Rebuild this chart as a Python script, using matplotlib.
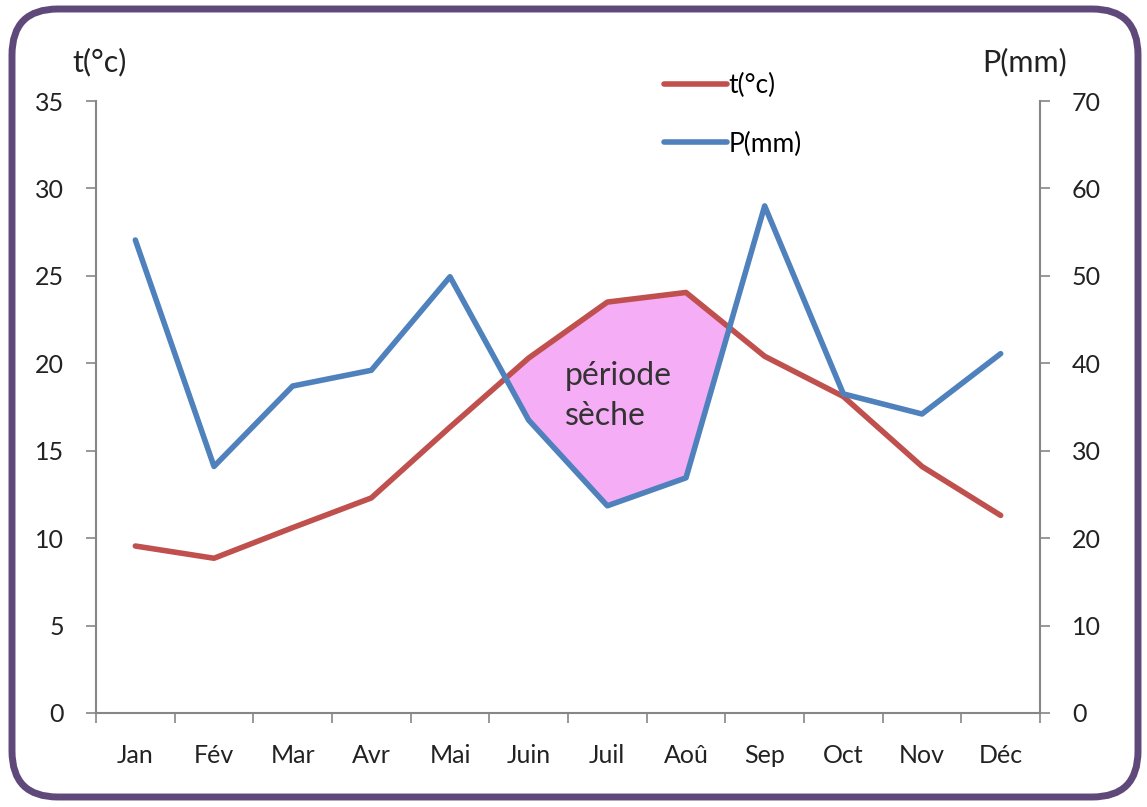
import numpy as np
import matplotlib
matplotlib.use("Agg")
import matplotlib.pyplot as plt
from matplotlib.patches import FancyBboxPatch

mois = ["Jan", "Fév", "Mar", "Avr", "Mai", "Juin", "Juil", "Aoû", "Sep", "Oct", "Nov", "Déc"]
temp = [9.55, 8.85, 10.6, 12.3, 16.35, 20.3, 23.5, 24.05, 20.4, 18.1, 14.1, 11.3]
precip = [54.1, 28.2, 37.4, 39.2, 49.9, 33.5, 23.7, 26.9, 58.0, 36.5, 34.2, 41.1]

red = "#C0504D"
blue = "#4F81BD"
grey = "#868686"
plt.rcParams['font.family'] = ['Lato', 'DejaVu Sans']

fig = plt.figure(figsize=(11.47, 8.07), dpi=100)
W, H = 1147, 807

# purple rounded frame
frame = FancyBboxPatch((12 / W, 10 / H), 1126 / W, 788 / H,
                       boxstyle="round,pad=0,rounding_size=0.04",
                       transform=fig.transFigure, fill=False,
                       edgecolor="#5F497A", linewidth=5,
                       mutation_aspect=W / H)
fig.patches.append(frame)

ax = fig.add_axes([96 / W, 1 - 713 / H, 944 / W, 612 / H])
ax2 = ax.twinx()

x = np.arange(len(mois))
t = np.array(temp)
p_scaled = np.array(precip) / 2.0

ax.fill_between(x, t, p_scaled, where=t > p_scaled, interpolate=True,
                color="#F5AEF5", lw=0, zorder=1)
l1, = ax.plot(x, temp, color=red, lw=4, solid_capstyle='round', zorder=3, label="t(°c)")
l2, = ax2.plot(x, precip, color=blue, lw=4, solid_capstyle='round', zorder=3, label="P(mm)")

ax.set_xlim(-0.5, 11.5)
ax.set_ylim(0, 35)
ax2.set_ylim(0, 70)
ax.set_yticks(range(0, 36, 5))
ax2.set_yticks(range(0, 71, 10))
ax.set_xticks(np.arange(-0.5, 12, 1))
ax.set_xticklabels([])
ax.set_xticks(x, minor=True)
ax.set_xticklabels(mois, minor=True)
ax.tick_params(axis='x', which='minor', length=0, pad=22, labelsize=18, labelcolor="#222222")
ax.tick_params(axis='x', which='major', length=7, width=1.2, color=grey)
ax.tick_params(axis='y', length=7, width=1.2, color=grey, labelsize=18, pad=16, labelcolor="#222222")
ax2.tick_params(axis='y', length=7, width=1.2, color=grey, labelsize=18, pad=16, labelcolor="#222222")

for a in (ax, ax2):
    for s in a.spines.values():
        s.set_visible(False)
ax.spines['left'].set_visible(True)
ax.spines['bottom'].set_visible(True)
ax2.spines['right'].set_visible(True)
for s in (ax.spines['left'], ax.spines['bottom'], ax2.spines['right']):
    s.set_color(grey)
    s.set_linewidth(1.5)

ax.text(565 / W, 1 - 396 / H, "période\nsèche", transform=fig.transFigure,
        ha='left', va='center', fontsize=23, color="#333333", linespacing=1.45, zorder=5)

fig.text(100 / W, 1 - 62 / H, "t(°c)", ha='center', va='center', fontsize=22, color="#222222")
fig.text(1025 / W, 1 - 62 / H, "P(mm)", ha='center', va='center', fontsize=22, color="#222222")

fig.legend(handles=[l1, l2], loc='center left', bbox_to_anchor=(640 / W, 1 - 115 / H),
           frameon=False, fontsize=19, handlelength=2.4, handletextpad=0.05,
           labelspacing=1.25)

fig.savefig("out.png", dpi=100)
